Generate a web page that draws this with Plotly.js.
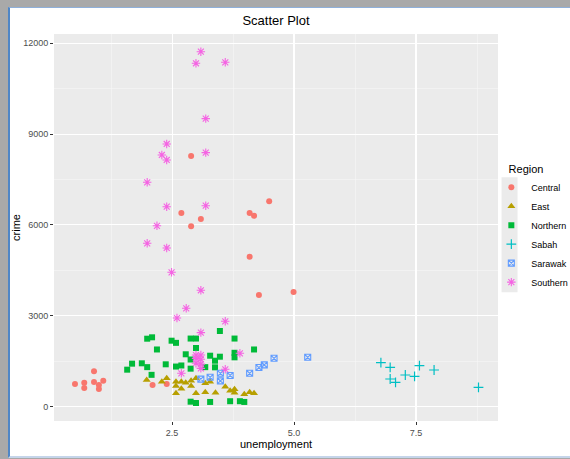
<!DOCTYPE html>
<html>
<head>
<meta charset="utf-8">
<script src="https://cdn.plot.ly/plotly-3.0.1.min.js"></script>
<style>
  html, body { margin: 0; padding: 0; width: 570px; height: 459px; overflow: hidden; background: #a9a9a9; }
  #frame { position: absolute; left: 8px; top: 7px; width: 560px; height: 448px; background: #ffffff;
           border-left: 2px solid #4f86c6; border-top: 1px solid #8fb0da; border-bottom: 2px solid #c5d5ea; }
  #chart { position: absolute; left: 0; top: 0; width: 570px; height: 459px; }
</style>
</head>
<body>
<div id="frame"></div>
<div id="chart"></div>
<script>
const regions = ["Central", "East", "Northern", "Sabah", "Sarawak", "Southern"];

const centralUnemployment = [0.51, 0.70, 0.70, 0.90, 0.90, 1.00, 1.00, 1.09, 2.10, 2.39, 2.89, 2.69, 3.09, 2.89, 4.49, 4.09, 4.18, 4.09, 4.28, 4.99];
const centralCrime        = [743, 787, 611, 1163, 809, 710, 578, 853, 710, 743, 8277, 6393, 6195, 5953, 6780, 6393, 6304, 4950, 3684, 3783];

const eastUnemployment = [1.98, 2.29, 2.39, 2.58, 2.58, 2.58, 2.69, 2.69, 2.78, 2.89, 2.89, 2.99, 2.99, 3.18, 3.18, 3.28, 3.39, 3.59, 3.69, 3.78, 3.78, 3.98, 4.09, 4.18];
const eastCrime        = [875, 820, 932, 820, 677, 436, 820, 589, 787, 853, 677, 932, 436, 765, 468, 820, 456, 655, 522, 567, 456, 403, 469, 436];

const northernUnemployment = [1.58, 1.68, 1.88, 1.99, 1.99, 2.09, 2.19, 2.08, 2.37, 2.49, 2.58, 2.58, 2.69, 2.78, 2.88, 2.99, 2.99, 2.88, 2.88, 2.88, 2.99, 3.28, 3.18, 3.28, 3.38, 3.38, 3.48, 3.48, 3.78, 3.78, 3.78, 4.18, 3.69, 3.89, 3.98];
const northernCrime        = [1217, 1415, 1427, 1300, 2240, 2286, 1884, 1046, 1394, 2174, 2103, 1320, 1355, 1725, 2245, 2245, 1933, 1553, 1250, 159, 115, 150, 1300, 1678, 1513, 1294, 2495, 1645, 2245, 1775, 1625, 1884, 175, 175, 150];

const sabahUnemployment = [6.78, 6.97, 6.97, 7.08, 7.28, 7.47, 7.57, 7.87, 8.78];
const sabahCrime        = [1447, 1295, 909, 800, 1041, 998, 1348, 1206, 634];

const sarawakUnemployment = [3.09, 3.28, 3.49, 3.49, 3.69, 4.09, 4.28, 4.39, 4.59, 5.28];
const sarawakCrime        = [904, 965, 1097, 848, 1025, 1097, 1288, 1376, 1592, 1625];

const southernUnemployment = [3.09, 2.99, 3.59, 3.19, 2.39, 2.29, 2.39, 3.19, 1.99, 2.39, 3.19, 2.19, 1.99, 2.39, 2.49, 3.09, 2.79, 2.60, 3.59, 3.09, 3.89, 3.59, 2.69, 2.99, 3.09, 2.99, 3.09, 2.99, 3.09, 3.09];
const southernCrime        = [11722, 11340, 11372, 9510, 8673, 8310, 8145, 8387, 7407, 6601, 6634, 5970, 5392, 5237, 4434, 3840, 3244, 2924, 2815, 2440, 1758, 1229, 1097, 1700, 1700, 1590, 1560, 1430, 1400, 1260];

const xTickValues = [2.5, 5.0, 7.5];
const xTickLabels = ["2.5", "5.0", "7.5"];
const yTickValues = [0, 3000, 6000, 9000, 12000];
const yTickLabels = ["0", "3000", "6000", "9000", "12000"];

const colors  = ["#F8766D", "#B79F00", "#00BA38", "#00BFC4", "#619CFF", "#F564E3"];
const symbols = ["circle", "triangle-up", "square", "cross-thin-open", "square-x-open", "asterisk-open"];
const sizes   = [6, 7, 6, 7, 6, 7];
const lineW   = [0, 0, 0, 1.2, 1.1, 1.1];

const xs = [centralUnemployment, eastUnemployment, northernUnemployment, sabahUnemployment, sarawakUnemployment, southernUnemployment];
const ys = [centralCrime, eastCrime, northernCrime, sabahCrime, sarawakCrime, southernCrime];

const traces = regions.map((r, i) => ({
  type: "scatter",
  mode: "markers",
  name: r,
  x: xs[i],
  y: ys[i],
  marker: {
    color: colors[i],
    symbol: symbols[i],
    size: sizes[i],
    line: { color: colors[i], width: lineW[i] }
  }
}));

const layout = {
  width: 570,
  height: 459,
  paper_bgcolor: "rgba(0,0,0,0)",
  plot_bgcolor: "#EBEBEB",
  margin: { l: 54, r: 72, t: 34, b: 38, pad: 0, autoexpand: false },
  font: { family: "Liberation Sans, Arial, sans-serif", color: "#000000" },
  title: {
    text: "Scatter Plot",
    font: { size: 13, color: "#000000" },
    xref: "paper", x: 0.5, xanchor: "center",
    yref: "container", y: 0.955, yanchor: "middle"
  },
  xaxis: {
    range: [0.08, 9.18],
    tickmode: "array", tickvals: xTickValues, ticktext: xTickLabels,
    ticks: "outside", ticklen: 3, tickwidth: 1, tickcolor: "#333333",
    tickfont: { size: 9, color: "#4D4D4D" },
    showgrid: true, gridcolor: "#FFFFFF", gridwidth: 1.1,
    minor: { tickvals: [1.25, 3.75, 6.25, 8.75], showgrid: true, gridcolor: "#F7F7F7", gridwidth: 0.6, ticks: "" },
    zeroline: false, showline: false,
    title: { text: "unemployment", font: { size: 11, color: "#000000" }, standoff: 3 }
  },
  yaxis: {
    range: [-479, 12307],
    tickmode: "array", tickvals: yTickValues, ticktext: yTickLabels,
    ticks: "outside", ticklen: 3, tickwidth: 1, tickcolor: "#333333",
    tickfont: { size: 9, color: "#4D4D4D" },
    showgrid: true, gridcolor: "#FFFFFF", gridwidth: 1.1,
    minor: { tickvals: [1500, 4500, 7500, 10500], showgrid: true, gridcolor: "#F7F7F7", gridwidth: 0.6, ticks: "" },
    zeroline: false, showline: false,
    title: { text: "crime", font: { size: 11, color: "#000000" }, standoff: 0 }
  },
  showlegend: true,
  legend: {
    xref: "container", x: 0.862, xanchor: "left",
    yref: "container", y: 0.655, yanchor: "top",
    bgcolor: "rgba(0,0,0,0)",
    title: { text: "&nbsp;&nbsp;&nbsp;&nbsp;&nbsp;Region", font: { size: 11, color: "#000000" } },
    font: { size: 9, color: "#000000" },
    tracegroupgap: 0
  },
  shapes: [{
    type: "rect", xref: "paper", yref: "paper", layer: "below",
    x0: 1.008, x1: 1.044, y0: 0.333, y1: 0.630,
    fillcolor: "#EBEBEB", line: { width: 0 }
  }]
};

Plotly.newPlot("chart", traces, layout, { displayModeBar: false, staticPlot: true });
</script>
</body>
</html>
